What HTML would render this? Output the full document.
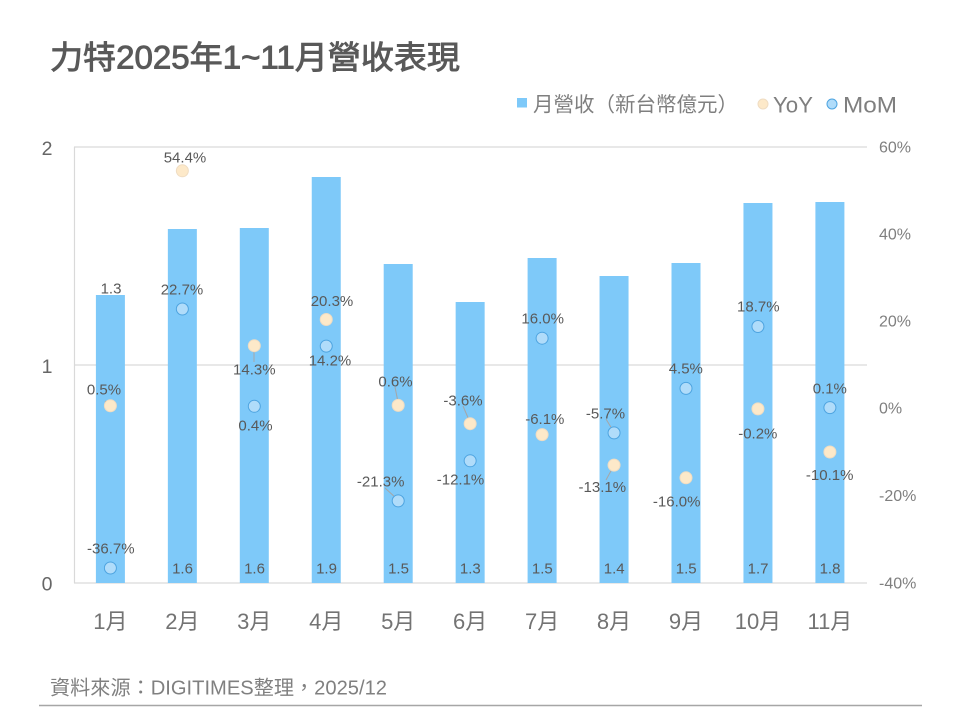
<!DOCTYPE html>
<html><head><meta charset="utf-8"><style>
html,body{margin:0;padding:0;background:#fff;}
svg{display:block;}
text{font-family:"Liberation Sans","Noto Sans CJK TC",sans-serif;}
</style></head><body>
<svg width="960" height="720" viewBox="0 0 960 720" xmlns="http://www.w3.org/2000/svg">
<rect width="960" height="720" fill="#fff"/>
<text x="50" y="68.3" font-size="32" fill="#595959" stroke="#595959" stroke-width="0.9" textLength="410" lengthAdjust="spacingAndGlyphs">力特2025年1~11月營收表現</text>

<!-- legend -->
<rect x="517" y="98" width="10" height="9.5" fill="#7ec9f9"/>
<text x="533" y="111.5" font-size="20.5" fill="#7f7f7f" textLength="205" lengthAdjust="spacingAndGlyphs">月營收（新台幣億元）</text>
<circle cx="763" cy="104" r="5" fill="#fde9c9" stroke="#efdcc2" stroke-width="1"/>
<text x="773" y="112.7" font-size="22" fill="#7f7f7f" textLength="40" lengthAdjust="spacingAndGlyphs">YoY</text>
<circle cx="832" cy="104" r="5" fill="#b0dcfa" stroke="#4ea4e0" stroke-width="1"/>
<text x="843" y="112.7" font-size="22" fill="#7f7f7f" textLength="54" lengthAdjust="spacingAndGlyphs">MoM</text>

<!-- gridlines -->
<g stroke="#d9d9d9" stroke-width="1.2">
<line x1="74" y1="147" x2="867" y2="147"/>
<line x1="74" y1="365" x2="867" y2="365"/>
<line x1="74" y1="583" x2="867" y2="583"/>
<line x1="74.5" y1="147" x2="74.5" y2="583"/>
</g>

<!-- left axis -->
<g font-size="19.5" fill="#666" text-anchor="middle">
<text x="47" y="155">2</text>
<text x="47" y="373">1</text>
<text x="47" y="590.7">0</text>
</g>
<!-- right axis -->
<g font-size="16" fill="#7f7f7f">
<text x="879" y="152.7">60%</text>
<text x="879" y="239.5">40%</text>
<text x="879" y="326.6">20%</text>
<text x="879" y="413.7">0%</text>
<text x="879" y="500.8">-20%</text>
<text x="879" y="588.3">-40%</text>
</g>

<!-- bars -->
<g fill="#7ec9f9">
<rect x="95.9" y="295" width="29" height="288"/>
<rect x="167.85" y="229" width="29" height="354"/>
<rect x="239.8" y="228" width="29" height="355"/>
<rect x="311.75" y="177" width="29" height="406"/>
<rect x="383.7" y="264" width="29" height="319"/>
<rect x="455.65" y="302" width="29" height="281"/>
<rect x="527.6" y="258" width="29" height="325"/>
<rect x="599.55" y="276" width="29" height="307"/>
<rect x="671.5" y="263" width="29" height="320"/>
<rect x="743.45" y="203" width="29" height="380"/>
<rect x="815.4" y="202" width="29" height="381"/>
</g>

<!-- bar labels -->
<g font-size="15" fill="#595959" text-anchor="middle">
<text x="111" y="293.3">1.3</text>
<text x="182.5" y="573.5">1.6</text>
<text x="254.5" y="573.5">1.6</text>
<text x="326.5" y="573.5">1.9</text>
<text x="398.5" y="573.5">1.5</text>
<text x="470.3" y="573.5">1.3</text>
<text x="542.3" y="573.5">1.5</text>
<text x="614.2" y="573.5">1.4</text>
<text x="686.2" y="573.5">1.5</text>
<text x="758.1" y="573.5">1.7</text>
<text x="830" y="573.5">1.8</text>
</g>

<!-- leader lines -->
<g stroke="#a6a6a6" stroke-width="1">
<line x1="105" y1="401" x2="113" y2="409"/>
<line x1="395" y1="387" x2="398" y2="402"/>
<line x1="385" y1="488" x2="396" y2="498"/>
<line x1="463" y1="406" x2="469" y2="420"/>
<line x1="606" y1="419" x2="612" y2="429"/>
<line x1="606" y1="480" x2="612" y2="469"/>
<line x1="254" y1="350" x2="254" y2="362"/>
<line x1="328" y1="322" x2="324" y2="316"/>
</g>

<!-- YoY markers -->
<g fill="#fde9c9" stroke="#efdcc2" stroke-width="1">
<circle cx="110.4" cy="405.8" r="6"/>
<circle cx="182.35" cy="170.8" r="6"/>
<circle cx="254.3" cy="345.7" r="6"/>
<circle cx="326.25" cy="319.5" r="6"/>
<circle cx="398.2" cy="405.4" r="6"/>
<circle cx="470.15" cy="423.7" r="6"/>
<circle cx="542.1" cy="434.6" r="6"/>
<circle cx="614.05" cy="465.1" r="6"/>
<circle cx="686" cy="477.8" r="6"/>
<circle cx="757.95" cy="408.9" r="6"/>
<circle cx="829.9" cy="452" r="6"/>
</g>
<!-- MoM markers -->
<g fill="#b0dcfa" stroke="#4ea4e0" stroke-width="1">
<circle cx="110.4" cy="568" r="6"/>
<circle cx="182.35" cy="309" r="6"/>
<circle cx="254.3" cy="406.3" r="6"/>
<circle cx="326.25" cy="346.1" r="6"/>
<circle cx="398.2" cy="500.9" r="6"/>
<circle cx="470.15" cy="460.8" r="6"/>
<circle cx="542.1" cy="338.2" r="6"/>
<circle cx="614.05" cy="432.9" r="6"/>
<circle cx="686" cy="388.4" r="6"/>
<circle cx="757.95" cy="326.5" r="6"/>
<circle cx="829.9" cy="407.6" r="6"/>
</g>

<!-- data labels -->
<g font-size="15" fill="#595959" text-anchor="middle">
<text x="104" y="394.3">0.5%</text>
<text x="110.8" y="553.3">-36.7%</text>
<text x="185" y="162.5">54.4%</text>
<text x="182" y="294.5">22.7%</text>
<text x="254.3" y="374.7">14.3%</text>
<text x="255.5" y="430.5">0.4%</text>
<text x="332" y="306">20.3%</text>
<text x="330" y="365.7">14.2%</text>
<text x="395.5" y="386.3">0.6%</text>
<text x="380.7" y="486.3">-21.3%</text>
<text x="463" y="405.7">-3.6%</text>
<text x="460.5" y="484.3">-12.1%</text>
<text x="542.7" y="323.3">16.0%</text>
<text x="544.8" y="424">-6.1%</text>
<text x="605.5" y="418.3">-5.7%</text>
<text x="602.3" y="492.2">-13.1%</text>
<text x="685.8" y="373.3">4.5%</text>
<text x="676.7" y="506.3">-16.0%</text>
<text x="758.3" y="311.7">18.7%</text>
<text x="757.8" y="438.5">-0.2%</text>
<text x="829.8" y="393.3">0.1%</text>
<text x="829.7" y="480">-10.1%</text>
</g>

<!-- x labels -->
<g font-size="22" fill="#737373" text-anchor="middle">
<text x="110.4" y="629">1月</text>
<text x="182.35" y="629">2月</text>
<text x="254.3" y="629">3月</text>
<text x="326.25" y="629">4月</text>
<text x="398.2" y="629">5月</text>
<text x="470.15" y="629">6月</text>
<text x="542.1" y="629">7月</text>
<text x="614.05" y="629">8月</text>
<text x="686" y="629">9月</text>
<text x="757.95" y="629">10月</text>
<text x="829.9" y="629">11月</text>
</g>

<!-- footer -->
<text x="50" y="694.5" font-size="20" fill="#808080" textLength="337" lengthAdjust="spacingAndGlyphs">資料來源：DIGITIMES整理，2025/12</text>
<line x1="39" y1="705.5" x2="922" y2="705.5" stroke="#a6a6a6" stroke-width="1.5"/>
</svg>
</body></html>
